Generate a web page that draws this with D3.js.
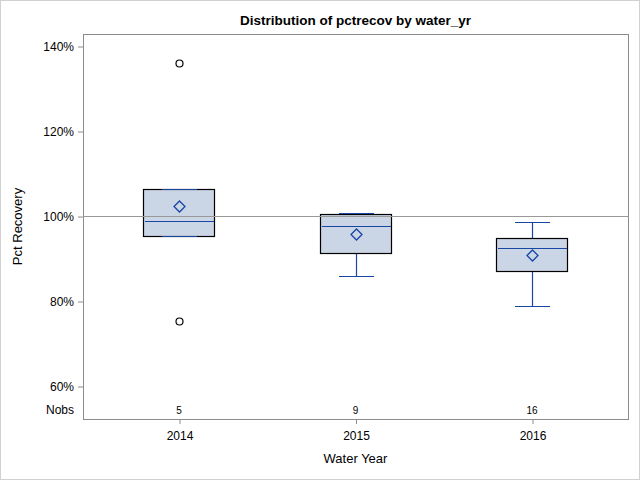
<!DOCTYPE html>
<html><head><meta charset="utf-8">
<script src="https://cdn.jsdelivr.net/npm/d3@7"></script>
<style>body{margin:0;background:#fff}svg{display:block}text{font-family:"Liberation Sans",Arial,sans-serif}</style>
</head><body>
<script>
const categories = ["2014","2015","2016"];
const q1 = [95.2, 91.3, 87.1];
const median = [98.75, 97.6, 92.4];
const q3 = [106.3, 100.4, 94.9];
const whiskerLow = [95.2, 85.8, 78.75];
const whiskerHigh = [106.3, 100.6, 98.5];
const means = [102.3, 95.7, 90.75];
const nobs = [5, 9, 16];
const outliers = [[135.9, 75.2], [], []];
const yTicks = [60, 80, 100, 120, 140];
const refValue = 100;

const W = 640, H = 480;
const m = {left: 83, right: 628, top: 34, bottom: 419};
const svg = d3.select("body").append("svg").attr("width", W).attr("height", H);
svg.append("rect").attr("x",0.5).attr("y",0.5).attr("width",W-1).attr("height",H-1)
  .attr("fill","#fff").attr("stroke","#d0d0d0");

const y = d3.scaleLinear().domain([52.24, 142.82]).range([m.bottom, m.top]);
const x = d3.scalePoint().domain(categories).range([m.left, m.right]).padding(0.544);
const py = v => Math.round(y(v)) + 0.5;
const px = c => Math.round(x(c)) + 0.5;

const axisColor = "#8c8c8c";
const lineColor = "#1846a3";
const fillColor = "#cad5e5";

svg.append("text").attr("x",(m.left+m.right)/2).attr("y",25).attr("text-anchor","middle")
  .attr("font-weight","bold").attr("font-size","13.5px").text("Distribution of pctrecov by water_yr");

// axes
const yAxis = svg.append("g").attr("transform",`translate(${m.left},0.5)`)
  .call(d3.axisLeft(y).tickValues(yTicks).tickSize(5).tickPadding(4).tickFormat(d=>d+"%"));
const xAxis = svg.append("g").attr("transform",`translate(0.5,${m.bottom})`)
  .call(d3.axisBottom(x).tickSize(5).tickPadding(7));
[yAxis,xAxis].forEach(g=>{
  g.select(".domain").remove();
  g.selectAll("line").attr("stroke",axisColor);
  g.selectAll("text").attr("font-size","12px").attr("fill","#000");
});
svg.append("rect").attr("x",m.left+0.5).attr("y",m.top+0.5)
  .attr("width",m.right-m.left).attr("height",m.bottom-m.top)
  .attr("fill","none").attr("stroke",axisColor);

svg.append("text").attr("transform",`translate(22,${(m.top+m.bottom)/2}) rotate(-90)`)
  .attr("text-anchor","middle").attr("font-size","13px").text("Pct Recovery");
svg.append("text").attr("x",(m.left+m.right)/2).attr("y",463).attr("text-anchor","middle")
  .attr("font-size","13px").text("Water Year");

// Nobs
svg.append("text").attr("x",74).attr("y",414).attr("text-anchor","end").attr("font-size","12px").text("Nobs");
svg.selectAll(".nobs").data(categories).enter().append("text")
  .attr("x",d=>x(d)).attr("y",414).attr("text-anchor","middle").attr("font-size","10px")
  .text((d,i)=>nobs[i]);

const bw = 71, cw = 35;
const g = svg.selectAll(".box").data(categories).enter().append("g");
const sw = 1.2;
// whiskers
g.append("line").attr("x1",d=>px(d)).attr("x2",d=>px(d))
  .attr("y1",(d,i)=>py(whiskerHigh[i])).attr("y2",(d,i)=>py(q3[i])).attr("stroke",lineColor).attr("stroke-width",sw);
g.append("line").attr("x1",d=>px(d)).attr("x2",d=>px(d))
  .attr("y1",(d,i)=>py(whiskerLow[i])).attr("y2",(d,i)=>py(q1[i])).attr("stroke",lineColor).attr("stroke-width",sw);
g.append("rect").attr("x",d=>px(d)-Math.round(bw/2)).attr("width",bw)
  .attr("y",(d,i)=>py(q3[i])).attr("height",(d,i)=>py(q1[i])-py(q3[i]))
  .attr("fill",fillColor).attr("stroke","#000").attr("stroke-width",sw);
// caps
g.append("line").attr("x1",d=>px(d)-cw/2).attr("x2",d=>px(d)+cw/2)
  .attr("y1",(d,i)=>py(whiskerHigh[i])).attr("y2",(d,i)=>py(whiskerHigh[i])).attr("stroke",lineColor).attr("stroke-width",sw);
g.append("line").attr("x1",d=>px(d)-cw/2).attr("x2",d=>px(d)+cw/2)
  .attr("y1",(d,i)=>py(whiskerLow[i])).attr("y2",(d,i)=>py(whiskerLow[i])).attr("stroke",lineColor).attr("stroke-width",sw);
// median
g.append("line").attr("x1",d=>px(d)-bw/2+1).attr("x2",d=>px(d)+bw/2-1)
  .attr("y1",(d,i)=>py(median[i])).attr("y2",(d,i)=>py(median[i])).attr("stroke",lineColor).attr("stroke-width",sw);
// mean diamond
g.append("path").attr("transform",(d,i)=>`translate(${px(d)},${py(means[i])})`)
  .attr("d","M0,-5.5L5.5,0L0,5.5L-5.5,0Z").attr("fill","none").attr("stroke",lineColor).attr("stroke-width",1.3);
// outliers
categories.forEach((c,i)=>{
  outliers[i].forEach(v=>{
    svg.append("circle").attr("cx",px(c)).attr("cy",py(v)).attr("r",3.5)
      .attr("fill","none").attr("stroke","#000").attr("stroke-width",1.2);
  });
});
// reference line
svg.append("line").attr("x1",m.left).attr("x2",m.right).attr("y1",py(refValue)).attr("y2",py(refValue))
  .attr("stroke","#999").attr("stroke-width",1);
</script>
</body></html>
